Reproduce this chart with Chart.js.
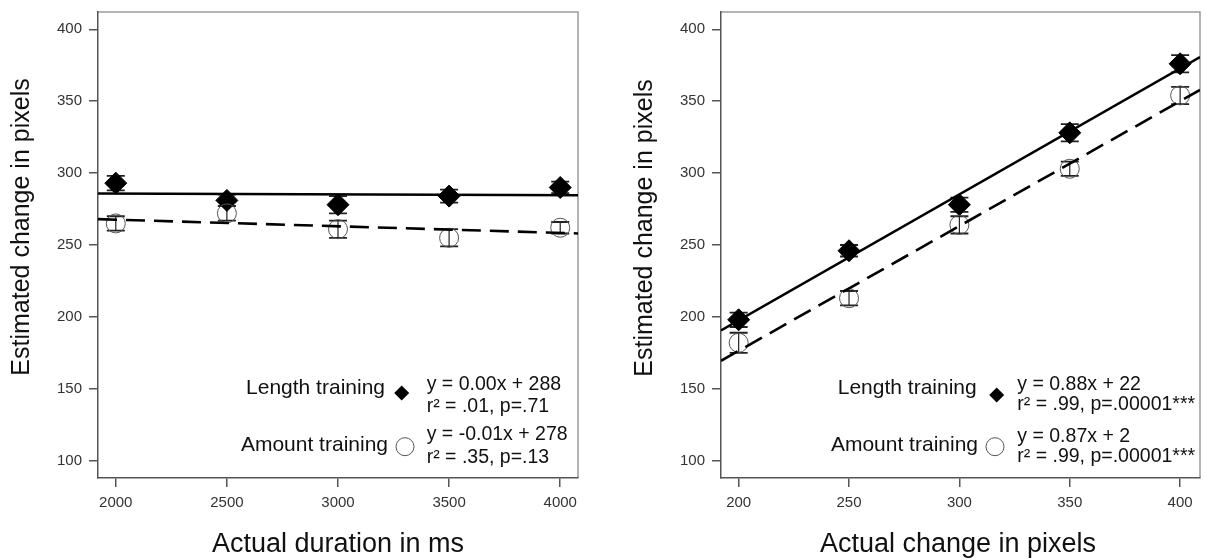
<!DOCTYPE html>
<html><head><meta charset="utf-8">
<script src="https://cdn.jsdelivr.net/npm/chart.js@4"></script>
<style>
html,body{margin:0;padding:0;background:#fff;width:1207px;height:560px;overflow:hidden}
#l{position:absolute;left:0;top:0}
#r{position:absolute;left:600px;top:0}
</style></head><body>
<canvas id="l" width="600" height="560"></canvas>
<canvas id="r" width="607" height="560"></canvas>
<script>
// ---- data ----
const durationMs = [2000, 2500, 3000, 3500, 4000];
const durLengthMean = [293, 281, 278, 284, 290];
const durLengthErr = [5, 4, 6, 4.5, 4];
const durAmountMean = [265, 272, 261, 255, 262];
const durAmountErr = [5, 5, 6, 6, 4];

const changePx = [200, 250, 300, 350, 400];
const pxLengthMean = [198, 246, 278, 328, 376];
const pxLengthErr = [5, 4, 5, 6, 6];
const pxAmountMean = [182, 213, 264, 303, 354];
const pxAmountErr = [7, 5, 6, 5, 6];

const yTicks = [100, 150, 200, 250, 300, 350, 400];
const durTicks = [2000, 2500, 3000, 3500, 4000];
const pxTicks = [200, 250, 300, 350, 400];
const yLimits = [88, 412];
const durLimits = [1920, 4080];
const pxLimits = [192, 409];

const seriesNames = ['Length training', 'Amount training'];
const durEquations = [['y = 0.00x + 288', 'r\u00B2 = .01, p=.71'], ['y = -0.01x + 278', 'r\u00B2 = .35, p=.13']];
const pxEquations = [['y = 0.88x + 22', 'r\u00B2 = .99, p=.00001***'], ['y = 0.87x + 2', 'r\u00B2 = .99, p=.00001***']];
const yTitle = 'Estimated change in pixels';
const durTitle = 'Actual duration in ms';
const pxTitle = 'Actual change in pixels';

// ---- helpers ----
const FONT = '"Liberation Sans", Arial, Helvetica, sans-serif';
function fit(xs, ys) {
  const n = xs.length;
  const mx = xs.reduce((a, b) => a + b, 0) / n;
  const my = ys.reduce((a, b) => a + b, 0) / n;
  let sxy = 0, sxx = 0;
  for (let i = 0; i < n; i++) { sxy += (xs[i] - mx) * (ys[i] - my); sxx += (xs[i] - mx) ** 2; }
  const b = sxy / sxx;
  return { a: my - b * mx, b };
}
function fitLine(xs, ys, lim) {
  const f = fit(xs, ys);
  return lim.map(x => ({ x, y: f.a + f.b * x }));
}
function pts(xs, ys) { return xs.map((x, i) => ({ x, y: ys[i] })); }

const decor = {
  id: 'decor',
  beforeDraw(chart) {
    const { ctx, chartArea: ca } = chart;
    ctx.save();
    ctx.strokeStyle = '#9a9a9a';
    ctx.lineWidth = 1.5;
    ctx.beginPath();
    ctx.moveTo(ca.left, ca.top); ctx.lineTo(ca.right, ca.top); ctx.lineTo(ca.right, ca.bottom);
    ctx.stroke();
    ctx.restore();
  },
  beforeDatasetsDraw(chart) {
    const { ctx } = chart;
    const xs = chart.scales.x, ys = chart.scales.y;
    ctx.save();
    chart.data.datasets.forEach(ds => {
      if (!ds.errorBars) return;
      ds.data.forEach((p, i) => {
        const e = ds.errorBars[i];
        const px = xs.getPixelForValue(p.x);
        const y1 = ys.getPixelForValue(p.y + e), y2 = ys.getPixelForValue(p.y - e);
        ctx.strokeStyle = '#222';
        ctx.lineWidth = 1.2;
        ctx.beginPath(); ctx.moveTo(px, y1); ctx.lineTo(px, y2); ctx.stroke();
        ctx.lineWidth = 1.8;
        ctx.beginPath();
        ctx.moveTo(px - 9, y1); ctx.lineTo(px + 9, y1);
        ctx.moveTo(px - 9, y2); ctx.lineTo(px + 9, y2);
        ctx.stroke();
      });
    });
    ctx.restore();
  },
  afterDraw(chart) {
    const o = chart.options.plugins.decor;
    const { ctx } = chart;
    ctx.save();
    ctx.fillStyle = '#111';
    ctx.font = '25px ' + FONT;
    ctx.textAlign = 'center'; ctx.textBaseline = 'middle';
    ctx.save();
    ctx.translate(o.yTitle[0], o.yTitle[1]);
    ctx.rotate(-Math.PI / 2);
    ctx.fillText(o.yTitleText, 0, 0);
    ctx.restore();
    ctx.font = '27px ' + FONT;
    ctx.fillText(o.xTitleText, o.xTitle[0], o.xTitle[1]);
    const L = o.legend;
    ctx.font = '21px ' + FONT;
    ctx.textAlign = 'right';
    ctx.fillText(seriesNames[0], L.labelX[0], L.labelY[0]);
    ctx.fillText(seriesNames[1], L.labelX[1], L.labelY[1]);
    ctx.fillStyle = '#000';
    const [dx, dy] = L.diamond, r = 7.5;
    ctx.beginPath();
    ctx.moveTo(dx - r, dy); ctx.lineTo(dx, dy - r); ctx.lineTo(dx + r, dy); ctx.lineTo(dx, dy + r);
    ctx.closePath(); ctx.fill();
    ctx.strokeStyle = '#555'; ctx.lineWidth = 1;
    ctx.beginPath(); ctx.arc(L.circle[0], L.circle[1], 9, 0, Math.PI * 2); ctx.stroke();
    ctx.fillStyle = '#111';
    ctx.font = '19.5px ' + FONT;
    ctx.textAlign = 'left';
    o.equations.forEach((lines, i) => {
      lines.forEach((t, j) => ctx.fillText(t, L.eqX, L.eqY[i][j]));
    });
    ctx.restore();
  }
};

function makeChart(id, cfg) {
  const datasets = [
    { data: fitLine(cfg.xs, cfg.lenMean, cfg.xLim), showLine: true, borderColor: '#000', borderWidth: 2.6, pointRadius: 0, fill: false },
    { data: fitLine(cfg.xs, cfg.amtMean, cfg.xLim), showLine: true, borderColor: '#000', borderWidth: 2.6, borderDash: [19, 9], pointRadius: 0, fill: false },
    { data: pts(cfg.xs, cfg.amtMean), errorBars: cfg.amtErr, pointStyle: 'circle', pointRadius: 9.5, backgroundColor: 'rgba(0,0,0,0)', borderColor: '#555', borderWidth: 1, showLine: false },
    { data: pts(cfg.xs, cfg.lenMean), errorBars: cfg.lenErr, pointStyle: 'rectRot', pointRadius: 11, backgroundColor: '#000', borderColor: '#000', borderWidth: 1, showLine: false }
  ];
  const axisCommon = {
    type: 'linear',
    grid: { drawOnChartArea: false, drawTicks: true, tickLength: 9, color: '#555', lineWidth: 1.5 },
    border: { display: true, color: '#555', width: 1.5 },
    ticks: { color: '#333', font: { family: FONT, size: 15 }, padding: 7, callback: v => String(v) }
  };
  return new Chart(document.getElementById(id), {
    type: 'scatter',
    data: { datasets },
    options: {
      responsive: false, animation: false, events: [],
      layout: { autoPadding: false, padding: { top: 12, right: cfg.padRight, left: 0, bottom: 0 } },
      scales: {
        x: Object.assign({}, axisCommon, {
          min: cfg.xLim[0], max: cfg.xLim[1],
          afterBuildTicks: s => { s.ticks = cfg.xTicks.map(v => ({ value: v })); },
          afterFit: s => { s.height = 82; s.paddingLeft = 0; s.paddingRight = 0; }
        }),
        y: Object.assign({}, axisCommon, {
          min: yLimits[0], max: yLimits[1],
          afterBuildTicks: s => { s.ticks = yTicks.map(v => ({ value: v })); },
          afterFit: s => { s.width = cfg.yWidth; s.paddingTop = 0; s.paddingBottom = 0; }
        })
      },
      plugins: {
        legend: { display: false }, tooltip: { enabled: false },
        decor: cfg.decor
      }
    },
    plugins: [decor]
  });
}

makeChart('l', {
  xs: durationMs, lenMean: durLengthMean, lenErr: durLengthErr, amtMean: durAmountMean, amtErr: durAmountErr,
  xLim: durLimits, xTicks: durTicks, yWidth: 98, padRight: 22,
  decor: {
    yTitle: [22, 227], yTitleText: yTitle,
    xTitle: [338, 545], xTitleText: durTitle,
    equations: durEquations,
    legend: { labelX: [385, 388], labelY: [388, 445], diamond: [401.7, 393], circle: [405, 446.7], eqX: 426.7, eqY: [[385, 406.7], [435, 458]] }
  }
});
makeChart('r', {
  xs: changePx, lenMean: pxLengthMean, lenErr: pxLengthErr, amtMean: pxAmountMean, amtErr: pxAmountErr,
  xLim: pxLimits, xTicks: pxTicks, yWidth: 121, padRight: 7,
  decor: {
    yTitle: [45, 228], yTitleText: yTitle,
    xTitle: [358, 545], xTitleText: pxTitle,
    equations: pxEquations,
    legend: { labelX: [376.7, 378], labelY: [388, 445], diamond: [396.7, 395], circle: [395, 446.7], eqX: 417.3, eqY: [[385, 405], [436.7, 456.7]] }
  }
});
</script>
</body></html>
